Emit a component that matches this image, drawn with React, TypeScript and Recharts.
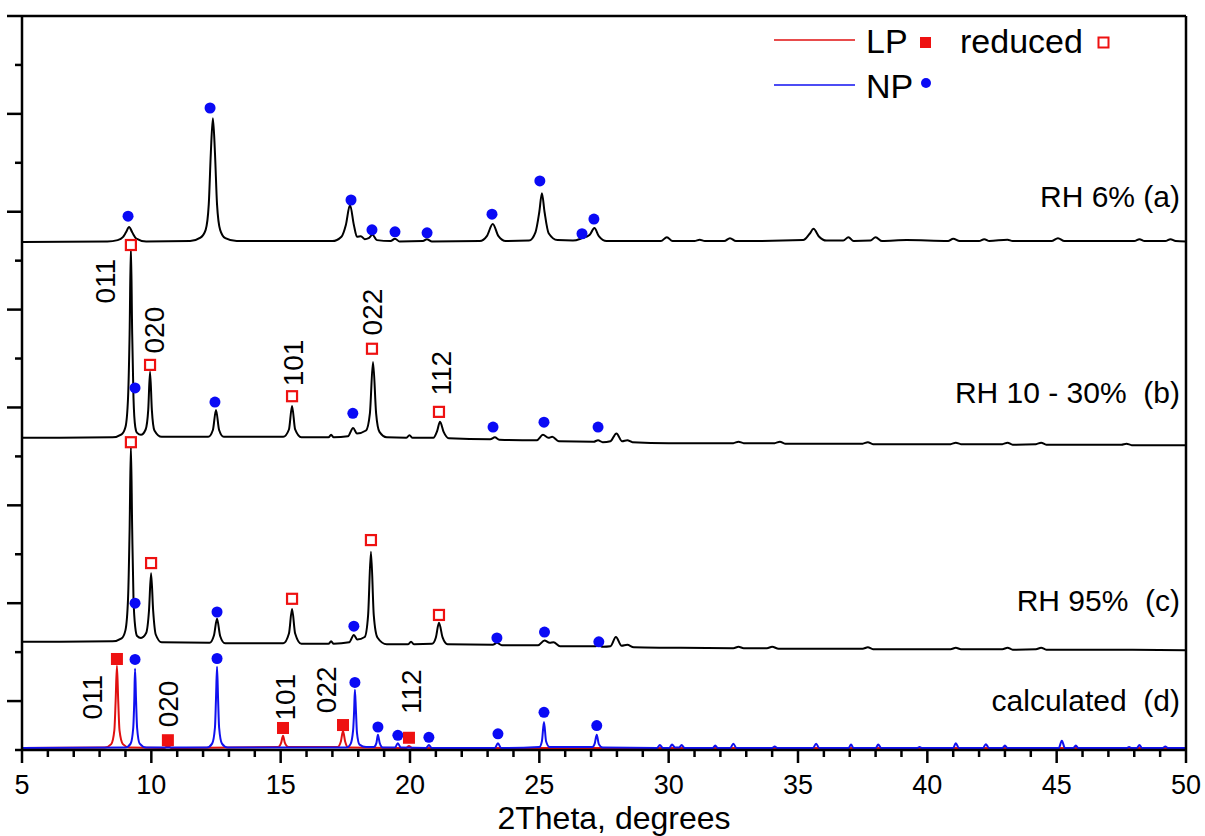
import React from "react";
import { ComposedChart, Line, Scatter, XAxis, YAxis } from "recharts";

type Pt = [number, number];

const FONT = '"Liberation Sans", Arial, sans-serif';

const xAllTicks = Array.from({ length: 46 }, (_, i) => 5 + i);
const yTicks = [0, 10, 20, 30, 40, 50, 60, 70, 80, 90, 100, 110, 120, 130, 140, 150];

// RH 6% (a)
const curveA: Pt[] = [
  [5, 103.8], [8.3, 103.9], [8.7, 104.2], [8.9, 104.8], [9.02, 105.8], [9.14, 106.9], [9.26, 105.8], [9.42, 104.5], [9.8, 103.9],
  [11.5, 104.0], [11.9, 104.7], [12.1, 106.3], [12.22, 111.5], [12.3, 122], [12.38, 129.1], [12.46, 122], [12.54, 111.5], [12.66, 106.3], [12.86, 104.6], [13.3, 104.0],
  [17.0, 104.0], [17.35, 104.9], [17.52, 107.3], [17.68, 111.4], [17.83, 107.3], [17.95, 104.9], [18.1, 105.0], [18.25, 104.4], [18.4, 104.6], [18.55, 105.3], [18.72, 104.2],
  [19.25, 104.0], [19.42, 104.5], [19.6, 103.9], [20.5, 104.0], [20.65, 104.4], [20.85, 103.9],
  [22.7, 104.0], [22.97, 105.0], [23.2, 107.5], [23.42, 105.0], [23.7, 104.0],
  [24.6, 104.1], [24.85, 105.8], [25.0, 110.0], [25.1, 113.8], [25.2, 110.0], [25.36, 105.6], [25.7, 104.2],
  [26.3, 104.1], [26.65, 104.6], [26.95, 105.3], [27.13, 106.7], [27.3, 105.0], [27.6, 104.0],
  [29.7, 104.0], [29.93, 104.8], [30.15, 104.0], [31.0, 104.0], [31.2, 104.3], [31.4, 104.0], [32.15, 104.0], [32.37, 104.6], [32.6, 104.0],
  [35.2, 104.2], [35.45, 105.5], [35.6, 106.5], [35.8, 105.0], [36.1, 104.1], [36.75, 104.1], [36.95, 104.8], [37.15, 104.0],
  [37.8, 104.1], [38.0, 104.8], [38.25, 104.0], [39.2, 104.2], [40.8, 104.0], [41.0, 104.5], [41.25, 104.0],
  [42.0, 104.0], [42.2, 104.4], [42.4, 104.0], [43.1, 104.3], [43.3, 104.0], [44.8, 104.0], [45.05, 104.6], [45.3, 104.0],
  [46.5, 104.0], [48.0, 104.0], [48.2, 104.4], [48.4, 104.0], [49.2, 104.0], [49.4, 104.4], [49.6, 104.0], [50, 103.9],
];

// RH 10 - 30% (b)
const curveB: Pt[] = [
  [5, 63.8], [8.5, 63.9], [8.85, 64.5], [9.0, 66], [9.1, 72], [9.16, 85], [9.21, 103.0], [9.26, 85], [9.31, 72], [9.38, 66], [9.45, 64.8], [9.6, 64.4],
  [9.78, 65.5], [9.88, 69.5], [9.95, 77.3], [10.02, 69.5], [10.12, 65.3], [10.4, 64.0],
  [12.2, 64.0], [12.38, 65.4], [12.5, 69.5], [12.62, 65.4], [12.8, 64.0],
  [15.1, 64.0], [15.32, 65.5], [15.44, 70.3], [15.56, 65.5], [15.8, 63.9], [16.85, 63.9], [16.95, 64.4], [17.05, 63.9],
  [17.6, 64.1], [17.8, 65.8], [17.95, 64.7], [18.3, 65.3], [18.45, 68.8], [18.57, 79.3], [18.69, 68.8], [18.82, 65.0], [19.1, 63.9],
  [19.85, 63.8], [19.98, 64.3], [20.1, 63.8], [20.9, 63.8], [21.05, 65.2], [21.16, 67.1], [21.3, 65.0], [21.5, 63.7],
  [23.1, 63.5], [23.28, 63.9], [23.45, 63.4], [24.9, 63.3], [25.14, 64.4], [25.35, 63.8], [25.5, 64.0], [25.75, 63.1],
  [27.1, 63.0], [27.27, 63.3], [27.45, 62.9], [27.75, 63.1], [27.98, 64.7], [28.2, 63.1], [28.4, 63.3], [28.6, 62.9],
  [30.0, 62.7], [32.5, 62.7], [32.7, 63.0], [32.9, 62.7], [34.1, 62.7], [34.3, 63.0], [34.5, 62.6], [35.5, 62.6],
  [37.5, 62.6], [37.7, 62.9], [37.9, 62.5], [40.9, 62.5], [41.1, 62.8], [41.3, 62.5], [42.9, 62.5], [43.1, 62.8], [43.3, 62.4],
  [44.2, 62.5], [44.4, 62.8], [44.6, 62.4], [47.5, 62.4], [47.7, 62.6], [47.9, 62.3], [50, 62.3],
];

// RH 95% (c)
const curveC: Pt[] = [
  [5, 22.1], [8.5, 22.2], [8.85, 22.8], [9.0, 24.5], [9.1, 31], [9.16, 45], [9.21, 62.3], [9.26, 45], [9.31, 31], [9.38, 25], [9.45, 23.3], [9.6, 22.9],
  [9.8, 23.9], [9.91, 28.5], [9.99, 36.1], [10.07, 28.5], [10.17, 23.6], [10.4, 22.0],
  [12.25, 21.9], [12.42, 23.4], [12.54, 26.8], [12.66, 23.3], [12.85, 21.8],
  [15.1, 21.8], [15.32, 23.8], [15.44, 28.8], [15.56, 23.8], [15.8, 21.7], [16.85, 21.7], [16.95, 22.2], [17.05, 21.7],
  [17.65, 22.0], [17.83, 23.5], [17.96, 22.6], [18.25, 23.1], [18.38, 27.5], [18.49, 40.5], [18.6, 27.5], [18.74, 23.0], [19.1, 21.6],
  [19.92, 21.6], [20.04, 22.1], [20.16, 21.6], [20.85, 21.7], [21.0, 23.0], [21.12, 26.0], [21.26, 23.0], [21.45, 21.6],
  [23.2, 21.5], [23.36, 21.9], [23.55, 21.4], [24.95, 21.4], [25.2, 22.4], [25.4, 21.9], [25.55, 22.0], [25.8, 21.2],
  [27.15, 21.2], [27.3, 21.4], [27.45, 21.1], [27.75, 21.2], [27.96, 23.1], [28.18, 21.3], [28.4, 21.5], [28.65, 21.0],
  [30.0, 20.9], [32.5, 20.8], [32.7, 21.1], [32.9, 20.8], [33.8, 20.8], [34.0, 21.1], [34.25, 20.7], [35.5, 20.7],
  [37.5, 20.7], [37.7, 21.0], [37.9, 20.6], [40.9, 20.6], [41.1, 20.9], [41.3, 20.6], [42.9, 20.6], [43.1, 20.9], [43.3, 20.5],
  [44.2, 20.6], [44.4, 20.9], [44.6, 20.5], [47.5, 20.5], [50, 20.4],
];

// calculated (d), LP phase
const calcLP: Pt[] = [
  [5, 0.4], [8.2, 0.5], [8.45, 1.2], [8.57, 4.0], [8.62, 10.0], [8.67, 17.2], [8.72, 10.0], [8.77, 4.0], [8.9, 1.2], [9.15, 0.5],
  [10.5, 0.4], [10.64, 0.8], [10.78, 0.4],
  [14.9, 0.6], [15.02, 1.5], [15.09, 2.9], [15.16, 1.5], [15.3, 0.6],
  [17.2, 0.6], [17.33, 1.8], [17.41, 3.9], [17.49, 1.8], [17.62, 0.5],
  [19.85, 0.4], [19.96, 0.8], [20.08, 0.4], [50, 0.4],
];

// calculated (d), NP phase
const calcNP: Pt[] = [
  [5, 0.4], [9.0, 0.5], [9.2, 1.3], [9.3, 4.5], [9.34, 10], [9.37, 16.6], [9.41, 10], [9.45, 4.5], [9.55, 1.3], [9.8, 0.5],
  [12.15, 0.5], [12.35, 1.3], [12.46, 4.6], [12.5, 10.5], [12.54, 17.0], [12.58, 10.5], [12.62, 4.6], [12.73, 1.3], [12.95, 0.5],
  [17.55, 0.5], [17.7, 1.2], [17.8, 4.0], [17.84, 8.0], [17.87, 12.3], [17.91, 8.0], [17.95, 3.5], [18.05, 1.1], [18.3, 0.6],
  [18.6, 0.6], [18.7, 1.4], [18.76, 3.1], [18.83, 1.4], [18.95, 0.5],
  [19.42, 0.5], [19.53, 1.4], [19.64, 0.5], [20.62, 0.4], [20.73, 1.0], [20.84, 0.4],
  [23.28, 0.4], [23.4, 1.4], [23.52, 0.4],
  [25.0, 0.6], [25.1, 1.8], [25.18, 5.7], [25.26, 1.8], [25.4, 0.6],
  [27.05, 0.6], [27.14, 1.3], [27.22, 3.1], [27.3, 1.2], [27.45, 0.5],
  [29.55, 0.4], [29.66, 1.0], [29.78, 0.4], [30.02, 0.4], [30.13, 1.1], [30.25, 0.5], [30.4, 0.5], [30.5, 1.0], [30.62, 0.4],
  [31.7, 0.4], [31.8, 0.9], [31.9, 0.4], [32.38, 0.4], [32.5, 1.3], [32.62, 0.4], [34.0, 0.4], [34.1, 0.7], [34.2, 0.4],
  [35.58, 0.4], [35.7, 1.3], [35.82, 0.4], [36.95, 0.4], [37.05, 1.1], [37.15, 0.4], [38.0, 0.4], [38.1, 1.1], [38.22, 0.4],
  [39.6, 0.4], [39.7, 0.6], [39.8, 0.4], [41.0, 0.4], [41.1, 1.4], [41.22, 0.4], [42.15, 0.4], [42.26, 1.2], [42.38, 0.4],
  [42.9, 0.4], [43.0, 0.9], [43.1, 0.4], [45.08, 0.4], [45.2, 1.9], [45.32, 0.4], [45.64, 0.4], [45.74, 0.9], [45.84, 0.4],
  [47.7, 0.4], [47.8, 0.6], [47.9, 0.4], [48.1, 0.4], [48.2, 1.0], [48.3, 0.4], [49.1, 0.4], [49.2, 0.7], [49.3, 0.4], [50, 0.4],
];

// peak markers
const npMarks: Pt[] = [
  [9.1, 109.1], [12.27, 131.2], [17.72, 112.4], [18.53, 106.3], [19.42, 105.9], [20.66, 105.7], [23.17, 109.5], [25.02, 116.3], [26.65, 105.5], [27.11, 108.5],
  [9.37, 74.0], [12.46, 71.1], [17.79, 68.8], [23.21, 66.0], [25.18, 67.0], [27.27, 66.0],
  [9.37, 30.0], [12.54, 28.2], [17.83, 25.3], [23.36, 22.9], [25.2, 24.1], [27.3, 22.1],
  [9.37, 18.5], [12.54, 18.7], [17.87, 13.8], [18.76, 4.7], [19.53, 3.0], [20.73, 2.6], [23.4, 3.3], [25.18, 7.7], [27.22, 5.0],
];
const lpMarks: Pt[] = [[8.67, 18.6], [10.64, 2.0], [15.09, 4.5], [17.41, 5.1], [19.96, 2.5]];
const reducedMarks: Pt[] = [
  [9.21, 103.2], [9.95, 78.7], [15.44, 72.3], [18.53, 82.0], [21.12, 69.1],
  [9.21, 62.9], [9.99, 38.2], [15.44, 30.9], [18.49, 42.9], [21.12, 27.6],
];

// Miller indices
const hklX = [8.21, 10.14, 15.51, 18.57, 21.2, 7.71, 10.68, 15.2, 16.79, 20.04];
const hklY = [95.8, 85.8, 79.1, 89.5, 77.0, 10.8, 9.4, 10.8, 12.3, 11.9];
const hklText = ["011", "020", "101", "022", "112", "011", "020", "101", "022", "112"];

const rows = (pts: Pt[]) => pts.map(([x, y]) => ({ x, y }));
const hklRows = hklX.map((x, i) => ({ x, y: hklY[i], label: hklText[i] }));

function XTick(props: any) {
  const { x, y, payload } = props;
  const v = payload.value;
  const major = v % 5 === 0;
  return (
    <g>
      <line x1={x} x2={x} y1={y} y2={y + (major ? 13 : 7)} stroke="#000" strokeWidth={2.5} />
      {major && (
        <text x={x} y={y + 44} textAnchor="middle" fontSize={27} fill="#000">
          {v}
        </text>
      )}
    </g>
  );
}

function YTick(props: any) {
  const { x, y, payload } = props;
  const major = payload.value % 20 === 10;
  return <line x1={x - (major ? 15 : 7)} x2={x} y1={y} y2={y} stroke="#000" strokeWidth={2.5} />;
}

const BlueDot = (p: any) => <circle cx={p.cx} cy={p.cy} r={5.5} fill="#0a0af5" />;
const RedSquare = (p: any) => <rect x={p.cx - 6} y={p.cy - 6} width={12} height={12} fill="#ee1111" />;
const OpenSquare = (p: any) => (
  <rect x={p.cx - 5} y={p.cy - 5} width={10} height={10} fill="#fff" stroke="#ee1111" strokeWidth={2.2} />
);
const HklLabel = (p: any) => (
  <text
    x={p.cx}
    y={p.cy}
    transform={`rotate(-90 ${p.cx} ${p.cy})`}
    textAnchor="middle"
    dominantBaseline="central"
    fontSize={28}
    fill="#000"
  >
    {p.payload.label}
  </text>
);

const axisStyle = { stroke: "#000", strokeWidth: 2.5 };

export default function App() {
  return (
    <div style={{ position: "absolute", left: 0, top: 0, width: 1205, height: 836, background: "#fff", fontFamily: FONT }}>
      <ComposedChart width={1205} height={836} margin={{ top: 15, right: 18, bottom: 85, left: 21 }}>
        <XAxis
          dataKey="x"
          type="number"
          domain={[5, 50]}
          allowDataOverflow
          ticks={xAllTicks}
          interval={0}
          height={1}
          tickSize={0}
          tickMargin={0}
          tickLine={false}
          tick={<XTick />}
          axisLine={axisStyle}
        />
        <XAxis xAxisId="top" orientation="top" dataKey="x" type="number" domain={[5, 50]} height={1} tick={false} tickLine={false} axisLine={axisStyle} />
        <YAxis
          type="number"
          domain={[0, 150]}
          allowDataOverflow
          ticks={yTicks}
          interval={0}
          width={1}
          tickSize={0}
          tickMargin={0}
          tickLine={false}
          tick={<YTick />}
          axisLine={axisStyle}
        />
        <YAxis yAxisId="right" orientation="right" type="number" domain={[0, 150]} width={1} tick={false} tickLine={false} axisLine={axisStyle} />

        <Line data={rows(curveA)} dataKey="y" type="monotone" stroke="#000" strokeWidth={2} dot={false} isAnimationActive={false} />
        <Line data={rows(curveB)} dataKey="y" type="monotone" stroke="#000" strokeWidth={2} dot={false} isAnimationActive={false} />
        <Line data={rows(curveC)} dataKey="y" type="monotone" stroke="#000" strokeWidth={2} dot={false} isAnimationActive={false} />
        <Line data={rows(calcLP)} dataKey="y" type="monotone" stroke="#e01010" strokeWidth={2} dot={false} isAnimationActive={false} />
        <Line data={rows(calcNP)} dataKey="y" type="monotone" stroke="#1010f0" strokeWidth={2} dot={false} isAnimationActive={false} />

        <Scatter data={rows(npMarks)} dataKey="y" shape={BlueDot} isAnimationActive={false} />
        <Scatter data={rows(lpMarks)} dataKey="y" shape={RedSquare} isAnimationActive={false} />
        <Scatter data={rows(reducedMarks)} dataKey="y" shape={OpenSquare} isAnimationActive={false} />
        <Scatter data={hklRows} dataKey="y" shape={HklLabel} isAnimationActive={false} />
      </ComposedChart>

      <svg width={1205} height={836} style={{ position: "absolute", left: 0, top: 0, pointerEvents: "none" }}>
        {/* legend */}
        <line x1={774} x2={855} y1={40} y2={40} stroke="#e01010" strokeWidth={1.6} />
        <text x={866} y={53} fontSize={34} fill="#000">LP</text>
        <rect x={920} y={37} width={11} height={11} fill="#ee1111" />
        <text x={960} y={53} fontSize={34} fill="#000">reduced</text>
        <rect x={1098.5} y={37.5} width={10} height={10} fill="#fff" stroke="#ee1111" strokeWidth={2} />
        <line x1={774} x2={855} y1={85} y2={85} stroke="#1010f0" strokeWidth={1.6} />
        <text x={866} y={98} fontSize={34} fill="#000">NP</text>
        <circle cx={926} cy={83} r={5} fill="#0a0af5" />

        {/* pattern labels */}
        <text x={1180} y={207} textAnchor="end" fontSize={30} fill="#000">RH 6% (a)</text>
        <text x={1180} y={403} textAnchor="end" fontSize={30} fill="#000" style={{ whiteSpace: "pre" }}>RH 10 - 30%  (b)</text>
        <text x={1180} y={611} textAnchor="end" fontSize={30} fill="#000" style={{ whiteSpace: "pre" }}>RH 95%  (c)</text>
        <text x={1180} y={711} textAnchor="end" fontSize={30} fill="#000" style={{ whiteSpace: "pre" }}>calculated  (d)</text>

        <text x={614} y={829} textAnchor="middle" fontSize={32} fill="#000">2Theta, degrees</text>
      </svg>
    </div>
  );
}
